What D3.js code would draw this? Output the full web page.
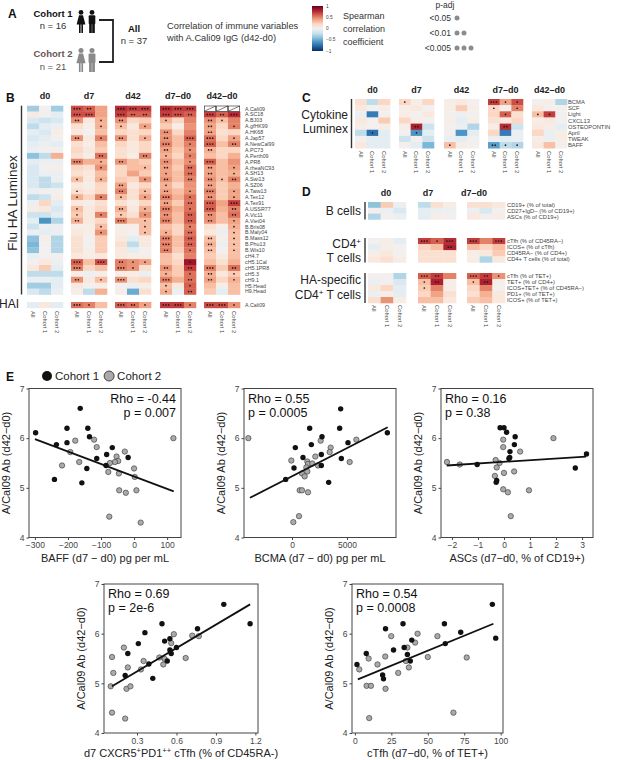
<!DOCTYPE html>
<html>
<head>
<meta charset="utf-8">
<script src="https://cdn.jsdelivr.net/npm/d3@7"></script>
<style>
  body { margin: 0; background: #fff; }
  svg { display: block; }
</style>
</head>
<body>
<svg id="mainsvg" width="617" height="760"></svg>
<script>
// ---------- data ----------
const timepoints = ['d0', 'd7', 'd42', 'd7\u2013d0', 'd42\u2013d0'];
const dTimepoints = ['d0', 'd7', 'd7\u2013d0'];
const subsets = ['All', 'Cohort 1', 'Cohort 2'];

const fluRows = ['A.Cali09', 'A.SC18', 'A.BJ03', 'A.gfHK99', 'A.HK68', 'A.Jap57', 'A.NewCal99', 'A.PC73',
  'A.Perth09', 'A.PR8', 'A.rheaNC93', 'A.SH13', 'A.Swi13', 'A.SZ06', 'A.Taiw13', 'A.Tex12', 'A.Tex91',
  'A.USSR77', 'A.Vic11', 'A.Viet04', 'B.Bris08', 'B.Maly04', 'B.Mass12', 'B.Phu13', 'B.Wis10', 'cH4.7',
  'cH5.1Cal', 'cH5.1PR8', 'cH5.3', 'cH9.1', 'H5.Head', 'H9.Head'];
// columns: d0, d7, d42, d7-d0, d42-d0  x  All, Cohort 1, Cohort 2
const fluRho = [
  [-0.35, 0, -0.35, 0.65, 0.6, 0.4, 0.75, 0.7, 0.7, 0.75, 0.7, 0.7, null, null, null],
  [0.08, 0, -0.1, 0.65, 0.65, 0.4, 0.7, 0.6, 0.6, 0.7, 0.65, 0.6, 0.7, 0.6, 0.75],
  [-0.15, -0.2, -0.15, 0.45, 0.1, 0.35, 0.45, 0.2, 0.25, 0.35, 0.2, 0.5, 0.45, 0.3, 0.5],
  [-0.25, -0.1, -0.05, 0.15, 0.05, 0.35, 0.3, 0.1, 0.4, 0.25, 0.05, 0.45, 0.4, 0.2, 0.5],
  [-0.1, -0.15, 0.05, 0.1, 0, 0.3, 0.2, 0.15, 0.2, 0.45, 0.2, 0.5, 0.4, 0.15, 0.2],
  [-0.15, -0.1, 0, 0.45, 0.1, 0.5, 0.45, 0.15, 0.35, 0.45, 0.3, 0.6, 0.55, 0.2, 0.4],
  [-0.1, -0.05, -0.1, 0.15, 0.05, 0.3, 0.2, 0.1, 0.2, 0.5, 0.3, 0.5, 0.6, 0.3, 0.5],
  [-0.05, 0, 0, 0.2, 0.1, 0.25, 0.15, 0.1, 0.2, 0.4, 0.25, 0.45, 0.35, 0.2, 0.2],
  [-0.4, -0.25, 0.35, 0.15, 0.05, 0.55, 0.15, 0.05, 0.5, 0.35, 0.2, 0.5, 0.3, 0.2, 0.35],
  [-0.1, -0.05, -0.05, 0.5, 0.35, 0.35, 0.45, 0.3, 0.25, 0.45, 0.3, 0.45, 0.6, 0.3, 0.45],
  [-0.15, 0, 0.05, 0.2, 0.15, 0.45, 0.2, 0.3, 0.3, 0.4, 0.25, 0.55, 0.4, 0.3, 0.4],
  [-0.15, -0.05, -0.05, 0.15, 0.1, 0.3, 0.2, 0.4, 0.25, 0.4, 0.3, 0.55, 0.4, 0.3, 0.35],
  [-0.15, -0.25, -0.05, 0.3, 0.1, 0.35, 0.25, 0.2, 0.45, 0.45, 0.3, 0.5, 0.45, 0.3, 0.5],
  [-0.15, -0.25, -0.2, 0.1, 0.05, 0.2, 0.4, 0.1, 0.2, 0.35, 0.2, 0.45, 0.4, 0.25, 0.35],
  [-0.05, 0, 0, 0.15, 0.1, 0.2, 0.5, 0.15, 0.3, 0.4, 0.3, 0.45, 0.5, 0.25, 0.4],
  [-0.25, -0.2, 0.05, 0.35, 0.2, 0.5, 0.3, 0.15, 0.4, 0.5, 0.35, 0.55, 0.45, 0.25, 0.4],
  [-0.05, 0.2, -0.1, 0.1, 0.05, 0.15, 0.15, 0.05, 0.2, 0.4, 0.25, 0.55, 0.6, 0.4, 0.7],
  [0.05, 0.1, -0.15, 0.3, 0.1, 0.2, 0.35, 0.1, 0.35, 0.5, 0.35, 0.55, 0.6, 0.35, 0.5],
  [-0.2, -0.2, -0.1, 0.25, 0.1, 0.5, 0.25, 0.15, 0.45, 0.45, 0.3, 0.6, 0.45, 0.3, 0.55],
  [-0.1, -0.6, -0.3, 0.35, 0.1, 0.2, 0.5, 0.3, 0.3, 0.5, 0.3, 0.6, 0.45, 0.3, 0.4],
  [-0.2, -0.05, -0.05, 0.05, 0.05, 0.3, 0.05, 0.05, 0.3, 0.3, 0.2, 0.5, 0.15, 0.05, 0.35],
  [-0.05, -0.1, -0.05, 0.1, 0.05, 0.45, 0.05, 0, 0.3, 0.35, 0.2, 0.55, 0.1, -0.05, 0.3],
  [-0.4, 0.05, -0.3, 0.15, 0, 0.25, 0.1, -0.1, 0.1, 0.5, 0.3, 0.6, 0.3, 0.05, 0.3],
  [-0.45, 0, -0.3, 0.15, 0, 0.25, 0.15, -0.25, 0.1, 0.5, 0.3, 0.6, 0.35, -0.05, 0.3],
  [-0.4, 0, -0.3, 0.15, 0.05, 0.25, 0.1, -0.1, 0, 0.5, 0.25, 0.55, 0.3, 0, 0.3],
  [-0.05, 0, 0, 0.1, 0.05, 0.1, 0.1, 0.05, 0.05, 0.3, 0.15, 0.5, 0.25, 0.1, 0.3],
  [0, 0.1, -0.05, 0.6, 0.3, 0.65, 0.5, 0.45, 0.4, 0.3, 0.2, 0.85, 0.3, 0.15, 0.35],
  [0.1, 0.25, -0.1, 0.5, 0.2, 0.3, 0.5, 0.45, 0.15, 0.45, 0.25, 0.7, 0.5, 0.25, 0.55],
  [-0.25, -0.25, -0.25, 0.05, -0.05, 0.05, 0.05, 0.05, -0.05, 0.35, 0.25, 0.55, 0.35, 0.1, 0.25],
  [-0.05, -0.05, -0.1, 0.45, 0.1, 0.3, 0.45, 0.15, 0.2, 0.5, 0.35, 0.55, 0.4, 0.2, 0.35],
  [-0.35, -0.35, -0.1, 0.1, 0, 0.05, 0, -0.05, 0.05, 0.3, 0.1, 0.6, 0.3, 0.05, 0.3],
  [-0.15, -0.25, -0.05, 0.05, -0.25, 0.35, 0.05, -0.5, 0.15, 0.35, -0.05, 0.6, 0.25, -0.1, 0.3]
];
// number of p-adj dots per cell
const fluSig = [
  '000320333333000', '000330322332323', '000201200100210', '000001101000201', '000000000200200',
  '000201201203301', '000000000301302', '000000000201200', '000002002101000', '000301200201300',
  '000001001202201', '000000000102201', '000101001202212', '000000200100200', '000100201201301',
  '000101101301201', '000000000202303', '000100201301302', '000101101202202', '000200301302201',
  '000001001001001', '000001001102001', '000000000302201', '000000000302201', '000000000201201',
  '000000000000000', '000303211001000', '000300310202302', '000000000101201', '000201300302201',
  '000000000101000', '000000000102000'
];
const haiRows = ['A.Cali09'];
const haiRho = [[-0.1, 0.1, -0.1, 0.55, 0.5, 0.3, 0.6, 0.55, 0.4, 0.7, 0.7, 0.5, 0.65, 0.65, 0.45]];
const haiSig = ['000310321331331'];

const cytoRows = ['BCMA', 'SCF', 'Light', 'CXCL13', 'OSTEOPONTIN', 'April', 'TWEAK', 'BAFF'];
const cytoRho = [
  [0.15, -0.25, 0.2, 0.2, 0.05, 0.2, 0.05, 0.1, 0, 0.7, 0.4, 0.65, 0, 0.05, -0.3],
  [0.1, 0, 0.05, 0.05, 0.1, 0, 0.05, 0.25, 0.05, 0.2, 0, 0.5, 0.1, 0, 0],
  [-0.05, -0.7, 0, 0.05, 0, 0.1, 0, -0.05, 0, 0.2, 0.6, 0.15, 0.3, 0.7, 0],
  [0.1, 0, 0.25, 0.2, 0.05, 0, 0.05, -0.1, 0.05, 0.15, 0.1, 0.2, 0.05, 0.1, 0],
  [0.05, 0, 0.05, 0.05, 0.8, -0.2, 0, -0.05, -0.3, 0.05, 0.75, -0.2, 0.1, 0.05, -0.1],
  [-0.25, -0.75, -0.1, 0, -0.6, -0.1, 0, -0.6, -0.1, 0.2, -0.7, -0.05, 0.2, -0.05, 0.05],
  [0, -0.1, -0.1, -0.2, 0, -0.2, -0.05, -0.1, 0, -0.05, -0.1, -0.05, 0.05, -0.05, 0.05],
  [0.1, -0.1, -0.1, 0, -0.1, -0.45, 0.3, 0.05, 0, -0.55, -0.25, -0.3, 0.1, 0.3, 0]
];
const cytoSig = ['000100000311000', '000000000101000', '000000000010110', '000000000000000',
  '000020000020000', '010010000000000', '000000000000000', '000000100211000'];

const bcellRows = ['CD19+ (% of total)', 'CD27+IgD\u2212 (% of CD19+)', 'ASCs (% of CD19+)'];
const bcellRho = [
  [-0.4, 0.25, -0.05, -0.25, 0.15, 0.05, 0.15, 0.15, 0.1],
  [0, -0.05, -0.15, -0.1, -0.05, -0.05, -0.05, -0.15, 0],
  [-0.3, 0, -0.05, -0.1, 0.05, 0, 0.1, 0, 0.05]
];
const bcellSig = ['000000000', '000000000', '000000000'];
const cd4Rows = ['cTfh (% of CD45RA\u2212)', 'ICOS+ (% of cTfh)', 'CD45RA\u2212 (% of CD4+)', 'CD4+ T cells (% of total)'];
const cd4Rho = [
  [0, 0.05, -0.1, 0.7, 0.6, 0.75, 0.7, 0.5, 0.7],
  [-0.1, 0.05, 0, 0.2, 0.3, 0.8, 0.3, 0.2, 0.3],
  [0.05, 0.1, 0, 0.15, 0.15, 0.15, 0.05, 0.1, 0.25],
  [0.1, 0.15, 0.05, 0.15, 0.15, 0.15, 0.05, -0.3, 0.1]
];
const cd4Sig = ['000313303', '000002000', '000000000', '000000000'];
const haRows = ['cTfh (% of TET+)', 'TET+ (% of CD4+)', 'ICOS+TET+ (% of CD45RA\u2212)', 'PD1+ (% of TET+)', 'ICOS+ (% of TET+)'];
const haRho = [
  [0, 0, -0.3, 0.6, 0.7, 0.5, 0.6, 0.7, 0.45],
  [-0.05, 0, -0.15, 0.3, 0.8, 0.05, 0.3, 0.8, 0.05],
  [0.1, 0.2, -0.1, 0.25, 0.5, 0.05, 0.2, 0.5, 0],
  [-0.05, 0.05, -0.1, 0.2, 0.4, 0.15, 0.15, 0.35, 0.1],
  [0.15, 0.45, 0.05, 0.3, 0.3, 0.1, 0.25, 0.3, 0.1]
];
const haSig = ['000320321', '000120120', '000100000', '000000000', '000000000'];

const cbarTicks = [1, 0.5, 0, -0.5, -1];
const pLevels = ['<0.05', '<0.01', '<0.005'];

// scatter data: [x, A/Cal09 Ab (d42-d0)]
const baffC1 = [[-298, 6.11], [-203, 6.2], [-203, 5.91], [-163, 6.6], [-140, 6.2], [-135, 6.03], [-241, 5.17],
  [-158, 5.1], [-143, 5.39], [-113, 5.59], [-83, 5.67], [-66, 5.81], [-18, 5.61], [-85, 5.45], [-235, 5.87]];
const baffC2 = [[-178, 5.95], [-121, 5.97], [-113, 5.82], [-193, 5.72], [-218, 5.45], [-166, 5.52], [-73, 5.5],
  [-78, 5.32], [-53, 5.63], [-48, 5.54], [-58, 5.52], [-46, 5.29], [-28, 5.73], [0, 5.39], [2, 5.22],
  [-45, 4.95], [-25, 4.9], [7, 4.95], [-75, 4.42], [20, 4.3], [119, 6.0]];
const baffFit = [[-300, 5.98], [120, 4.93]];

const bcmaC1 = [[4424, 6.59], [1606, 6.2], [4333, 6.2], [303, 5.81], [1758, 5.87], [2727, 6.03], [1000, 5.61],
  [182, 5.4], [-576, 5.17], [2667, 5.67], [2667, 5.45], [3333, 5.11], [4485, 5.59], [5091, 5.91], [8667, 6.11]];
const bcmaC2 = [[-3970, 6.0], [-61, 5.55], [1394, 5.53], [1455, 5.48], [1848, 5.49], [2121, 5.63], [1303, 5.41],
  [909, 5.29], [1152, 5.23], [1394, 5.33], [2606, 5.95], [3515, 5.81], [3424, 5.72], [5242, 5.52], [5848, 5.97],
  [697, 4.95], [909, 4.95], [1455, 4.91], [636, 4.43], [121, 4.31], [2364, 5.45]];
const bcmaFit = [[-3820, 4.8], [8700, 6.22]];

const ascC1 = [[-0.15, 6.21], [0, 6.21], [0.1, 6.12], [0.43, 6.03], [0.4, 5.87], [0.23, 5.73], [0.22, 5.61],
  [0.19, 5.59], [3.17, 5.68], [2.74, 5.4], [-1.03, 5.47], [-0.28, 5.15], [-0.3, 5.11]];
const ascC2 = [[-2.19, 5.52], [-1.7, 5.47], [-0.32, 5.56], [-0.17, 5.5], [-0.28, 5.41], [-0.03, 5.97], [-0.03, 5.82],
  [-0.35, 5.24], [0, 5.3], [0.39, 5.33], [0.62, 5.73], [1.9, 6.0], [-0.03, 4.97], [0.15, 4.91], [0.96, 4.95], [0.26, 4.43]];
const ascFit = [[-2.2, 5.45], [3.15, 5.63]];

const tfhC1 = [[0.96, 6.59], [1.16, 6.2], [0.49, 6.2], [0.36, 6.02], [0.31, 5.8], [0.23, 5.6], [0.51, 5.85],
  [0.55, 5.9], [0.76, 6.1], [0.6, 5.72], [0.56, 5.6], [0.55, 5.67], [0.53, 5.45], [0.39, 5.39], [0.42, 5.1], [0.21, 5.16]];
const tfhC2 = [[0.11, 5.53], [0.12, 5.21], [0.1, 4.94], [0.11, 4.41], [0.21, 4.29], [0.22, 4.89], [0.25, 4.94],
  [0.23, 5.32], [0.2, 5.72], [0.33, 5.28], [0.35, 5.45], [0.47, 5.52], [0.5, 5.38], [0.51, 5.49], [0.56, 5.81],
  [0.58, 5.99], [0.67, 5.51], [0.72, 5.96], [0.77, 5.95]];
const tfhFit = [[0.11, 4.94], [1.16, 6.59]];

const tetC1 = [[1.4, 5.38], [7.8, 5.6], [21, 6.1], [33, 6.2], [26.5, 5.67], [33.8, 5.72], [36, 5.58], [38, 5.45],
  [39, 5.87], [19, 5.17], [19.6, 5.09], [61.4, 6.2], [62, 5.8], [72.6, 6.03], [94.3, 6.59], [96.6, 5.91]];
const tetC2 = [[3, 5.28], [9.4, 5.5], [8, 4.95], [11, 4.95], [9.8, 4.3], [15.5, 5.38], [20.8, 5.54], [21, 4.89],
  [24.9, 5.95], [29.7, 5.21], [35, 5.45], [36, 5.72], [37, 5.32], [41.3, 5.82], [43, 6.0], [50, 5.53],
  [56.6, 5.95], [76.7, 5.52], [67.6, 4.41]];
const tetFit = [[2, 5.08], [95, 6.2]];

const yTicks = [4, 5, 6, 7];
const rhoLabels = ['Rho = -0.44', 'Rho = 0.55', 'Rho = 0.16', 'Rho = 0.69', 'Rho = 0.54'];
const pLabels = ['p = 0.007', 'p = 0.0005', 'p = 0.38', 'p = 2e-6', 'p = 0.0008'];

// ---------- setup ----------
const font = '"Liberation Sans", Arial, Helvetica, sans-serif';
const svg = d3.select('#mainsvg').attr('font-family', font);
const color = d3.scaleSequential(d3.interpolateRdBu).domain([1, -1]);

const txt = (x, y, s, size, opts = {}) => svg.append('text')
  .attr('x', x).attr('y', y).attr('font-size', size)
  .attr('font-weight', opts.bold ? 'bold' : null)
  .attr('text-anchor', opts.anchor || 'start')
  .attr('fill', opts.fill || '#222')
  .text(s);

// panel letters
[['A', 8, 18], ['B', 6, 102], ['C', 302, 102], ['D', 302, 196], ['E', 6, 381]]
  .forEach(d => txt(d[1], d[2], d[0], 12, { bold: true, fill: '#111' }));

// ---------- panel A ----------
function person(cx, top, h, fill, female) {
  const s = h / 23;
  const p = svg.append('g').attr('transform', `translate(${cx},${top}) scale(${s})`).attr('fill', fill);
  p.append('circle').attr('cx', 0).attr('cy', 2.4).attr('r', 2.4);
  if (female) {
    p.append('path').attr('d', 'M-2,5.3 H2 L4.4,14.5 H-4.4 Z');
    p.append('rect').attr('x', -2).attr('y', 14).attr('width', 1.6).attr('height', 9);
    p.append('rect').attr('x', 0.4).attr('y', 14).attr('width', 1.6).attr('height', 9);
  } else {
    p.append('rect').attr('x', -3.3).attr('y', 5.3).attr('width', 6.6).attr('height', 9).attr('rx', 1);
    p.append('rect').attr('x', -2.8).attr('y', 13).attr('width', 2.6).attr('height', 10);
    p.append('rect').attr('x', 0.2).attr('y', 13).attr('width', 2.6).attr('height', 10);
  }
}
txt(53, 17, 'Cohort 1', 9.5, { bold: true, anchor: 'middle', fill: '#111' });
txt(53, 29, 'n = 16', 9.5, { anchor: 'middle', fill: '#333' });
txt(53, 57, 'Cohort 2', 9.5, { bold: true, anchor: 'middle', fill: '#6b5555' });
txt(53, 70, 'n = 21', 9.5, { anchor: 'middle', fill: '#555' });
person(81, 10, 23, '#111', true);
person(92, 10, 23, '#111', false);
person(81, 48, 24, '#8a8a8a', true);
person(92, 48, 24, '#8a8a8a', false);
svg.append('path').attr('d', 'M99,20 H113 V62 H99').attr('fill', 'none').attr('stroke', '#222').attr('stroke-width', 1.8);
txt(134, 32, 'All', 9.5, { bold: true, anchor: 'middle', fill: '#111' });
txt(134, 44, 'n = 37', 9.5, { anchor: 'middle', fill: '#333' });
txt(167, 29, 'Correlation of immune variables', 9.3, { fill: '#333' });
txt(167, 41, 'with A.Cali09 IgG (d42-d0)', 9.3, { fill: '#333' });

// colour bar
const cbar = d3.scaleLinear().domain([1, -1]).range([6, 51]);
const grad = svg.append('defs').append('linearGradient').attr('id', 'cbar')
  .attr('x1', 0).attr('x2', 0).attr('y1', 0).attr('y2', 1);
d3.range(0, 1.0001, 0.1).forEach(t => grad.append('stop').attr('offset', t).attr('stop-color', color(1 - 2 * t)));
svg.append('rect').attr('x', 312).attr('y', cbar(1)).attr('width', 11).attr('height', cbar(-1) - cbar(1)).attr('fill', 'url(#cbar)');
svg.append('g').selectAll('text').data(cbarTicks).join('text')
  .attr('x', 326).attr('y', d => cbar(d)).attr('dy', '0.35em')
  .attr('font-size', 4.8).attr('fill', '#444')
  .text(d => d3.format('')(d).replace('-', '\u2212'));
['Spearman', 'correlation', 'coefficient'].forEach((s, i) => txt(343, 19 + i * 13, s, 9, { fill: '#333' }));

// p-adj legend
txt(445, 8, 'p-adj', 8.5, { anchor: 'middle', fill: '#333' });
pLevels.forEach((s, i) => {
  const yy = 18 + i * 15;
  txt(451, yy + 3, s, 8.5, { anchor: 'end', fill: '#333' });
  svg.append('g').selectAll('circle').data(d3.range(i + 1)).join('circle')
    .attr('cx', k => 457 + k * 7).attr('cy', yy).attr('r', 2.5).attr('fill', '#8c8c8c');
});

// ---------- heatmaps ----------
function heat(cfg) {
  const g = svg.append('g');
  const n = cfg.rows.length;
  const y = d3.scaleBand().domain(d3.range(n)).range([cfg.top, cfg.top + cfg.rowH * n]);
  const xs = cfg.groupX.map(gx => d3.scaleBand().domain(d3.range(3)).range([gx, gx + cfg.groupW]));
  const cells = [];
  cfg.rho.forEach((row, ri) => row.forEach((v, ci) => {
    cells.push({ ri, gi: Math.floor(ci / 3), si: ci % 3, v, sig: +cfg.sig[ri][ci] });
  }));
  const bw = xs[0].bandwidth(), bh = y.bandwidth();
  g.selectAll('rect.cell').data(cells).join('rect').attr('class', 'cell')
    .attr('x', d => xs[d.gi](d.si)).attr('y', d => y(d.ri))
    .attr('width', bw + 0.3).attr('height', bh + 0.3)
    .attr('fill', d => d.v === null ? '#fff' : color(d.v));
  // self-correlation cells
  const na = cells.filter(d => d.v === null);
  g.selectAll('rect.na').data(na).join('rect').attr('class', 'na')
    .attr('x', d => xs[d.gi](d.si) + 0.3).attr('y', d => y(d.ri) + 0.3)
    .attr('width', bw - 0.6).attr('height', bh - 0.6)
    .attr('fill', 'none').attr('stroke', '#222').attr('stroke-width', 0.6);
  g.selectAll('line.na').data(na).join('line').attr('class', 'na')
    .attr('x1', d => xs[d.gi](d.si) + 0.3).attr('y1', d => y(d.ri) + bh - 0.3)
    .attr('x2', d => xs[d.gi](d.si) + bw - 0.3).attr('y2', d => y(d.ri) + 0.3)
    .attr('stroke', '#222').attr('stroke-width', 0.6);
  // significance dots
  const dots = cells.flatMap(d => d3.range(d.sig).map(k => ({ ...d, k })));
  g.selectAll('circle').data(dots).join('circle')
    .attr('cx', d => xs[d.gi](d.si) + bw / 2 + (d.k - (d.sig - 1) / 2) * 2.7)
    .attr('cy', d => y(d.ri) + bh / 2)
    .attr('r', 0.85).attr('fill', '#2a1616');
  // row labels
  g.selectAll('text.row').data(cfg.rows).join('text').attr('class', 'row')
    .attr('x', cfg.labelX).attr('y', (d, i) => y(i) + bh / 2).attr('dy', '0.35em')
    .attr('font-size', cfg.labelSize).attr('fill', '#444').text(d => d);
  if (cfg.headers) {
    g.selectAll('text.head').data(cfg.headers).join('text').attr('class', 'head')
      .attr('x', (d, i) => cfg.headerX ? cfg.headerX[i] : cfg.groupX[i] + cfg.groupW / 2)
      .attr('y', cfg.headerY).attr('text-anchor', 'middle')
      .attr('font-size', 9).attr('font-weight', 'bold').attr('fill', '#222').text(d => d);
  }
  if (cfg.colLabelY) {
    const cols = cfg.groupX.flatMap((gx, gi) => subsets.map((s, si) => ({ s, x: xs[gi](si) + bw / 2 })));
    g.selectAll('text.col').data(cols).join('text').attr('class', 'col')
      .attr('transform', d => `translate(${d.x},${cfg.colLabelY}) rotate(90)`)
      .attr('dy', '0.35em').attr('font-size', 5.8).attr('fill', '#444').text(d => d.s);
  }
  if (cfg.bar) {
    svg.append('line').attr('x1', cfg.bar).attr('x2', cfg.bar)
      .attr('y1', cfg.top).attr('y2', cfg.top + cfg.rowH * n)
      .attr('stroke', '#333').attr('stroke-width', 1.4);
  }
}

const bGroups = [27, 71, 115, 160, 204];
heat({ rows: fluRows, rho: fluRho, sig: fluSig, groupX: bGroups, groupW: 36, top: 105.7, rowH: 5.9,
  labelX: 245, labelSize: 5.3, headers: timepoints, headerY: 99, bar: 21.5 });
heat({ rows: haiRows, rho: haiRho, sig: haiSig, groupX: bGroups, groupW: 36, top: 302, rowH: 5.9,
  labelX: 245, labelSize: 5.3, colLabelY: 311 });
svg.append('text').attr('transform', 'translate(17,203) rotate(-90)').attr('text-anchor', 'middle')
  .attr('font-size', 13.5).attr('fill', '#222').text('Flu HA Luminex');
txt(19, 308, 'HAI', 12, { anchor: 'end' });

heat({ rows: cytoRows, rho: cytoRho, sig: cytoSig, groupX: [355, 399, 444, 488, 532], groupW: 35, top: 99, rowH: 6.15,
  labelX: 568, labelSize: 5.8, headers: timepoints, headerY: 93, colLabelY: 151, bar: 351.5 });
txt(348, 119, 'Cytokine', 12, { anchor: 'end' });
txt(348, 133, 'Luminex', 12, { anchor: 'end' });

const dGroups = [368, 418, 467];
heat({ rows: bcellRows, rho: bcellRho, sig: bcellSig, groupX: dGroups, groupW: 38, top: 202, rowH: 5.8,
  labelX: 507, labelSize: 5.8, headers: dTimepoints, headerX: [386, 428, 474], headerY: 196, bar: 365 });
heat({ rows: cd4Rows, rho: cd4Rho, sig: cd4Sig, groupX: dGroups, groupW: 38, top: 238, rowH: 6.1,
  labelX: 507, labelSize: 5.8, bar: 365 });
heat({ rows: haRows, rho: haRho, sig: haSig, groupX: dGroups, groupW: 38, top: 273, rowH: 6.0,
  labelX: 507, labelSize: 5.8, colLabelY: 305, bar: 365 });
txt(361, 215, 'B cells', 12, { anchor: 'end' });
const cd4a = txt(361, 248, 'CD4', 12, { anchor: 'end' });
cd4a.append('tspan').attr('font-size', 8).attr('dy', -4).text('+');
txt(361, 262, 'T cells', 12, { anchor: 'end' });
txt(361, 284, 'HA-specific', 12, { anchor: 'end' });
const cd4b = txt(361, 299, 'CD4', 12, { anchor: 'end' });
cd4b.append('tspan').attr('font-size', 8).attr('dy', -4).text('+');
cd4b.append('tspan').attr('dy', 4).text(' T cells');

// ---------- panel E ----------
const legendY = 376;
svg.append('circle').attr('cx', 47).attr('cy', legendY).attr('r', 5).attr('fill', '#111');
const l1 = txt(55, legendY + 4, 'Cohort 1', 11.5);
const l2x = 55 + l1.node().getComputedTextLength() + 10;
svg.append('circle').attr('cx', l2x).attr('cy', legendY).attr('r', 5)
  .attr('fill', '#aaa').attr('stroke', '#222').attr('stroke-width', 0.8);
txt(l2x + 8, legendY + 4, 'Cohort 2', 11.5);

function scatter(cfg) {
  const g = svg.append('g');
  const x = d3.scaleLinear().domain(cfg.xDomain).range([cfg.left, cfg.right]);
  const y = d3.scaleLinear().domain([4, 7]).range([cfg.bottom, cfg.top]);

  const xAxis = d3.axisBottom(x).tickValues(cfg.xTicks).tickSize(2.5).tickPadding(2)
    .tickFormat(cfg.xFormat || d3.format('d'));
  const xg = g.append('g').attr('transform', `translate(0,${cfg.bottom})`).call(xAxis);
  const yg = g.append('g').attr('transform', `translate(${cfg.left},0)`)
    .call(d3.axisLeft(y).tickValues(yTicks).tickSize(2.5).tickPadding(2).tickFormat(d3.format('d')));
  [xg, yg].forEach(a => {
    a.select('.domain').remove();
    a.attr('font-family', font).attr('font-size', 8.5);
    a.selectAll('.tick text').attr('fill', '#444');
    a.selectAll('.tick line').attr('stroke', '#444');
  });
  g.append('rect').attr('x', cfg.left).attr('y', cfg.top)
    .attr('width', cfg.right - cfg.left).attr('height', cfg.bottom - cfg.top)
    .attr('fill', 'none').attr('stroke', '#444').attr('stroke-width', 1);

  g.append('g').selectAll('circle').data(cfg.c2).join('circle')
    .attr('cx', d => x(d[0])).attr('cy', d => y(d[1])).attr('r', 2.7)
    .attr('fill', '#aaa').attr('stroke', '#333').attr('stroke-width', 0.6);
  g.append('g').selectAll('circle').data(cfg.c1).join('circle')
    .attr('cx', d => x(d[0])).attr('cy', d => y(d[1])).attr('r', 2.7)
    .attr('fill', '#111');
  g.append('path').datum(cfg.fit)
    .attr('d', d3.line().x(d => x(d[0])).y(d => y(d[1])))
    .attr('stroke', '#111').attr('stroke-width', 1.8).attr('fill', 'none');

  const right = cfg.align === 'right';
  const tx = right ? cfg.right - 5 : cfg.left + 4;
  [rhoLabels[cfg.i], pLabels[cfg.i]].forEach((s, k) => {
    g.append('text').attr('x', tx).attr('y', cfg.top + 14 + k * 14)
      .attr('text-anchor', right ? 'end' : 'start')
      .attr('font-size', 12.5).attr('fill', '#111').text(s);
  });

  const xt = g.append('text').attr('x', (cfg.left + cfg.right) / 2).attr('y', cfg.bottom + 24)
    .attr('text-anchor', 'middle').attr('font-size', 11).attr('fill', '#222');
  cfg.xLabel.forEach(p => xt.append('tspan').attr('font-size', p[1] ? 7.5 : null)
    .attr('baseline-shift', p[1] ? 'super' : null).text(p[0]));
  g.append('text')
    .attr('transform', `translate(${cfg.left - 19},${(cfg.top + cfg.bottom) / 2}) rotate(-90)`)
    .attr('text-anchor', 'middle').attr('font-size', 11).attr('fill', '#222')
    .text('A/Cal09 Ab (d42\u2212d0)');
}

scatter({ i: 0, left: 29, right: 181, top: 388.5, bottom: 537.5, xDomain: [-318, 142],
  xTicks: [-300, -200, -100, 0, 100], c1: baffC1, c2: baffC2, fit: baffFit, align: 'right',
  xLabel: [['BAFF (d7 \u2212 d0) pg per mL']] });
scatter({ i: 1, left: 244, right: 396, top: 388.5, bottom: 537.5, xDomain: [-4364, 9455],
  xTicks: [0, 5000], c1: bcmaC1, c2: bcmaC2, fit: bcmaFit,
  xLabel: [['BCMA (d7 \u2212 d0) pg per mL']] });
scatter({ i: 2, left: 441, right: 593, top: 388.5, bottom: 537.5, xDomain: [-2.42, 3.42],
  xTicks: [-2, -1, 0, 1, 2, 3], c1: ascC1, c2: ascC2, fit: ascFit,
  xLabel: [['ASCs (d7\u2212d0, % of CD19+)']] });
scatter({ i: 3, left: 104, right: 258, top: 584, bottom: 733, xDomain: [0.049, 1.22],
  xTicks: [0.3, 0.6, 0.9, 1.2], xFormat: d3.format('.1f'), c1: tfhC1, c2: tfhC2, fit: tfhFit,
  xLabel: [['d7 CXCR5'], ['+', 1], ['PD1'], ['++', 1], [' cTfh (% of CD45RA-)']] });
scatter({ i: 4, left: 352, right: 503, top: 584, bottom: 733, xDomain: [-2, 101.6],
  xTicks: [0, 25, 50, 75, 100], c1: tetC1, c2: tetC2, fit: tetFit,
  xLabel: [['cTfh (d7\u2212d0, % of TET+)']] });
</script>
</body>
</html>
